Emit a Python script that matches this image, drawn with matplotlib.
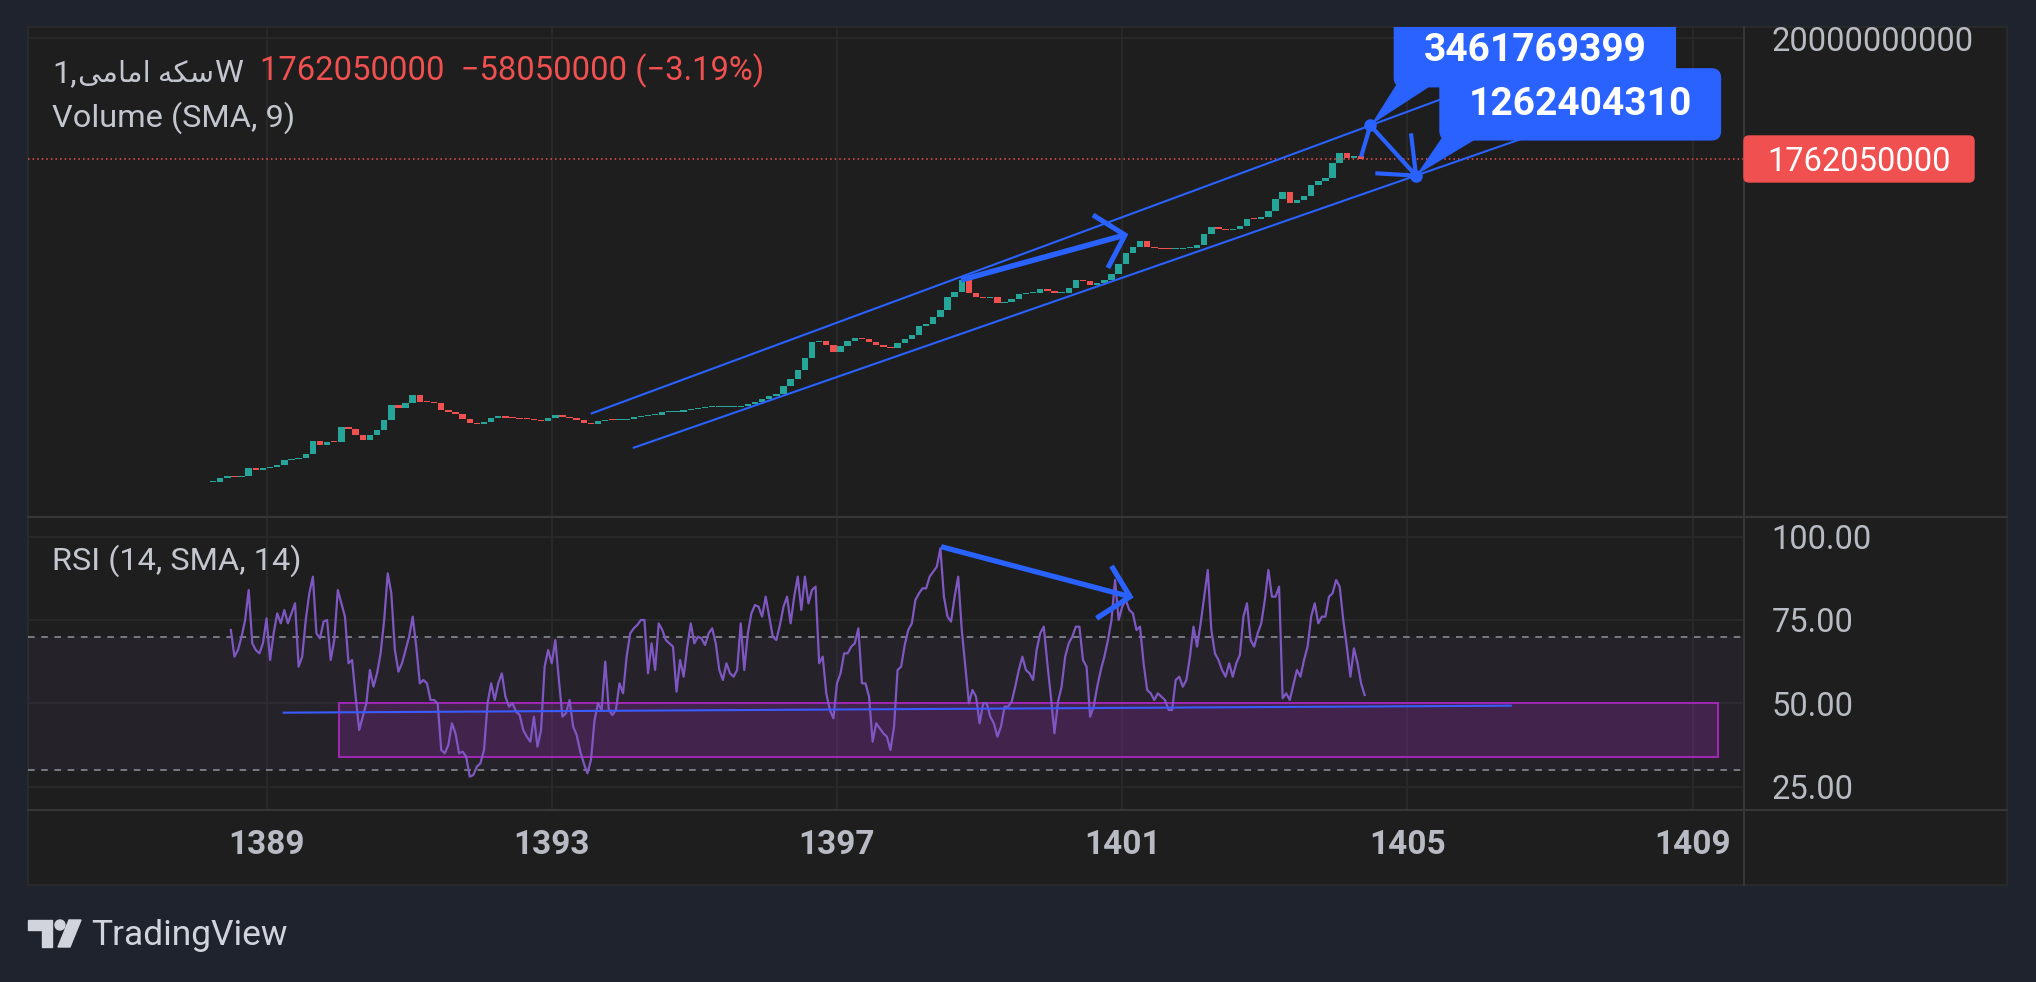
import matplotlib.pyplot as plt
import matplotlib.patches as mpatches
import matplotlib.transforms as mtransforms
from matplotlib.lines import Line2D
from matplotlib.ticker import NullLocator
import numpy as np

plt.rcParams["font.family"] = ["Roboto", "DejaVu Sans"]

#####################################################
# DATA
#####################################################

# weekly-ish closes of the coin (million rials), sampled every 0.1 year
price_start = 1388.25
price_step = 0.1
close_m = [
    2.65, 2.86, 3.02, 2.94, 3.0, 3.5, 3.4, 3.5, 3.6, 3.74,
    4.15, 4.2, 4.28, 4.7, 6.1, 5.65, 6.0, 5.9, 8.1, 7.7,
    6.9, 6.2, 6.85, 7.5, 9.2, 12.5, 11.7, 12.9, 15.2, 13.3,
    13.2, 12.9, 11.2, 10.9, 10.5, 9.4, 8.7, 8.6, 8.8, 9.7,
    10.0, 9.7, 9.55, 9.45, 9.35, 9.25, 9.1, 9.6, 10.3, 9.9,
    9.6, 9.3, 8.7, 8.6, 9.1, 9.3, 9.2, 9.2, 9.5, 9.8,
    10.1, 10.2, 10.3, 10.9, 10.9, 10.9, 11.2, 11.5, 11.7, 11.9,
    12.0, 12.1, 12.1, 12.1, 12.3, 12.8, 13.3, 14.2, 15.0, 15.6,
    18.5, 21.0, 25.5, 32.0, 44.0, 45.0, 42.0, 36.6, 41.0, 45.5,
    48.5, 47.5, 44.5, 42.0, 40.5, 39.2, 43.5, 46.8, 51.0, 61.0,
    64.0, 74.0, 85.0, 110.0, 121.0, 155.0, 118.0, 110.0, 108.0, 110.0,
    98.0, 100.0, 106.0, 116.0, 118.0, 118.0, 128.0, 125.0, 119.0, 120.0,
    132.0, 155.0, 150.0, 140.0, 145.0, 154.0, 175.0, 215.0, 265.0, 300.0,
    340.0, 302.0, 292.0, 287.0, 286.0, 290.0, 294.0, 297.0, 312.0, 390.0,
    445.0, 428.0, 424.0, 430.0, 460.0, 530.0, 525.0, 545.0, 620.0, 790.0,
    900.0, 725.0, 780.0, 840.0, 1050.0, 1130.0, 1200.0, 1620.0, 2000.0, 1800.0,
    1860.0, 1762.05,
]

# RSI(14), sampled every 0.05 year
rsi_start = 1388.50
rsi_step = 0.05
rsi = [
    72, 64, 66, 70, 75, 84, 68, 66, 65, 68,
    75.5, 63, 71, 77, 74, 78, 74, 77, 80, 61,
    64, 75, 83, 88, 71, 69.5, 74.5, 75, 63, 69,
    84, 80, 76, 62, 63, 52, 42, 46, 50, 60,
    55, 59, 65, 75, 89, 83, 66, 59.5, 62, 66,
    70, 76, 67, 56, 57, 56, 51, 51, 50, 36,
    35, 37.5, 44, 41, 35, 35.5, 34, 28, 28.5, 31,
    32, 36, 50, 56, 51, 56, 59, 52, 49, 50,
    47.5, 46.5, 42, 40, 38.5, 46, 37, 42, 61, 66,
    62, 69, 57, 46, 47, 51, 43, 40.5, 35.5, 32,
    29, 33, 45, 50, 48, 62.5, 48, 46.5, 48, 56,
    53, 64, 71, 72.5, 73.5, 75, 75, 59, 68, 60,
    74, 72, 69, 68, 67, 53.5, 63, 58, 67, 74,
    68, 70, 69.5, 67.5, 71, 72.5, 68, 60, 57, 62,
    59, 58, 60, 74, 60, 71, 77, 79.5, 79, 76,
    82, 76, 70, 69, 73.5, 79, 82, 74, 82, 88,
    78, 88, 80, 84, 85, 62, 64, 53, 48, 45.5,
    56, 59, 65, 65, 67, 68, 72.5, 56, 56, 52,
    38.5, 44, 42.5, 41, 40, 36, 43, 60, 61, 67.5,
    72, 74, 81, 83, 84.5, 84.5, 88, 89.5, 91, 96.5,
    82, 76, 74.5, 82, 88, 72, 61, 50, 54, 52,
    44, 50, 50, 46, 44, 40, 43, 49, 49, 50.5,
    55, 60, 64, 60, 59, 57, 66, 71, 73, 62,
    52, 41, 50.5, 55, 64, 68, 70, 73, 73, 63,
    61, 46, 49, 55, 60, 64, 69, 75, 87, 75,
    79, 81, 78, 77, 72, 73, 62, 54, 53, 51,
    53, 52, 51, 48, 48, 57, 58, 55, 57, 64,
    73, 67, 74, 82, 90, 72, 65, 63, 60, 58,
    62, 58, 62, 64.5, 76, 80, 69, 67, 71, 74,
    81, 90, 82, 82, 85, 51.5, 53, 51, 55.5, 60,
    58, 63, 67, 76, 80, 74, 76, 76, 82, 83,
    87, 85, 75, 67, 58, 66.5, 62, 56, 52.5,
]

year_ticks = [1389, 1393, 1397, 1401, 1405, 1409]
price_tick = 20000000000
rsi_ticks = [25, 50, 75, 100]

last_price = 1762050000
change = -58050000
change_pct = -3.19

# hand drawings (year, value)
upper_channel = [(1393.56, 1.057e7), (1404.48, 3461769399)]
lower_channel = [(1394.15, 5.3e6), (1405.12, 1262404310)]
channel_end = 1409.0
price_arrow = [(1398.74, 1.545e8), (1401.04, 3.82e8)]
price_arrow_head = [(1400.59, 5.71e8), (1401.04, 3.82e8), (1400.80, 1.97e8)]
end_path = [(1404.35, 1.845e9), (1404.48, 3461769399), (1405.12, 1262404310)]
end_path_head = [(1404.55, 1.322e9), (1405.12, 1262404310), (1405.05, 2.953e9)]

rsi_arrow = [(1398.46, 97.0), (1401.11, 82.0)]
rsi_arrow_head = [(1400.85, 91.2), (1401.11, 82.0), (1400.64, 75.5)]
rsi_line = [(1389.24, 47.2), (1406.45, 49.3)]
rsi_box = (1390.02, 1409.36, 34.0, 50.0)

#####################################################
# STYLE
#####################################################

W, H = 2036, 982
OUTER = "#1f232e"
PANEL = "#1e1e1e"
SEP = "#363636"
GRID = "#2b2b2b"
TXT = "#b8bbc3"
HEAD = "#c3c6ce"
GREEN = "#26a69a"
RED = "#f0504f"
BLUE = "#2962ff"
PURPLE = "#7e57c2"
MAGENTA = "#9c27b0"


def fx(px):
    return px / W


def fy(py):
    return 1 - py / H


ident = mtransforms.IdentityTransform()

fig = plt.figure(figsize=(W / 100, H / 100), dpi=100, facecolor=OUTER)

# chart panel
fig.add_artist(mpatches.Rectangle((fx(28), fy(885)), fx(2007) - fx(28), fy(27) - fy(885),
                                  transform=fig.transFigure, facecolor=PANEL,
                                  edgecolor="#2c2c2c", lw=1.2, zorder=0))

ax_p = fig.add_axes([fx(28), fy(517), fx(1744) - fx(28), fy(27) - fy(517)])
ax_r = fig.add_axes([fx(28), fy(810), fx(1744) - fx(28), fy(517) - fy(810)])

for ax in (ax_p, ax_r):
    ax.set_facecolor("none")
    for s in ax.spines.values():
        s.set_visible(False)
    ax.set_xlim(1385.655, 1409.72)
    ax.set_xticks(year_ticks)
    ax.yaxis.tick_right()
    ax.tick_params(length=0, labelsize=23.5, labelcolor=TXT)
    ax.tick_params(axis="y", pad=20)
    ax.grid(color=GRID, lw=1.2)
    ax.set_axisbelow(True)

# separators
for y0 in (517, 810):
    fig.add_artist(Line2D([fx(28), fx(2007)], [fy(y0), fy(y0)], transform=fig.transFigure,
                          color=SEP, lw=1.5))
fig.add_artist(Line2D([fx(1744), fx(1744)], [fy(27), fy(885)], transform=fig.transFigure,
                      color=SEP, lw=1.5))

#####################################################
# PRICE PANE
#####################################################

ax_p.set_yscale("log")
ax_p.set_ylim(1.315e6, 2.506e10)
ax_p.set_yticks([price_tick], labels=[str(price_tick)])
ax_p.yaxis.set_minor_locator(NullLocator())
ax_p.tick_params(axis="x", labelbottom=False)

close = np.array(close_m) * 1e6
t_price = price_start + price_step * np.arange(len(close))
opens = np.r_[close[0], close[:-1]]
lo = np.minimum(opens, close)
hi = np.maximum(np.maximum(opens, close), lo * 1.02)
colors = np.where(close >= opens, GREEN, RED)
ax_p.bar(t_price, hi - lo, bottom=lo, width=0.09, color=colors, linewidth=0, zorder=2)

ax_p.axhline(last_price, color=RED, lw=1.1, ls=(0, (1, 2)), zorder=2)


def extend(p0, p1, x_end):
    (x0, y0), (x1, y1) = p0, p1
    k = (np.log10(y1) - np.log10(y0)) / (x1 - x0)
    return [x0, x_end], [y0, 10 ** (np.log10(y0) + k * (x_end - x0))]


for ch in (upper_channel, lower_channel):
    xs, ys = extend(ch[0], ch[1], channel_end)
    ax_p.plot(xs, ys, color=BLUE, lw=1.5, zorder=3)

for path, lw in ((price_arrow, 4.0), (price_arrow_head, 3.6), (end_path, 3.0), (end_path_head, 3.0)):
    xs, ys = zip(*path)
    ax_p.plot(xs, ys, color=BLUE, lw=lw, solid_capstyle="butt", solid_joinstyle="miter", zorder=4)

for pt in (upper_channel[1], lower_channel[1]):
    ax_p.plot([pt[0]], [pt[1]], "o", ms=8, color=BLUE, zorder=5)


def callout(ax, anchor, label, dx0, dx1, dy0, height):
    px, py = ax.transData.transform(anchor)
    wedge = mpatches.Polygon([(px + dx0 + 4, py + dy0 + 4), (px + dx0 + 40, py + dy0 + 4), (px + 3, py + 3)],
                             closed=True, transform=ident, color=BLUE, zorder=6)
    box = mpatches.FancyBboxPatch((px + dx0, py + dy0), dx1 - dx0, height,
                                  boxstyle="round,pad=0,rounding_size=9",
                                  transform=ident, color=BLUE, zorder=6)
    ax.add_patch(wedge)
    ax.add_patch(box)
    ax.text(px + (dx0 + dx1) / 2, py + dy0 + height / 2, label, transform=ident,
            ha="center", va="center", color="white", fontsize=28, fontweight="bold", zorder=7)


callout(ax_p, upper_channel[1], "3461769399", 24, 305, 38.7, 72)
callout(ax_p, lower_channel[1], "1262404310", 24, 304.5, 35.7, 71)

# last price label on the scale
fig.canvas.draw()
_, lp_y = ax_p.transData.transform((1400, last_price))
fig.add_artist(mpatches.FancyBboxPatch((1744, lp_y - 23), 230, 46, boxstyle="round,pad=0,rounding_size=5",
                                       transform=ident, color=RED, zorder=8))
fig.text(1859 / W, lp_y / H, str(last_price), ha="center", va="center_baseline",
         color="white", fontsize=23.5, zorder=9)

#####################################################
# RSI PANE
#####################################################

ax_r.set_ylim(18.0, 105.9)
ax_r.set_yticks(rsi_ticks, labels=[f"{v:.2f}" for v in rsi_ticks])
ax_r.set_xticks(year_ticks, labels=[str(y) for y in year_ticks])
ax_r.tick_params(axis="x", pad=13.5, labelsize=24)
for lab in ax_r.get_xticklabels():
    lab.set_fontweight("bold")

ax_r.axhspan(30, 70, color=PURPLE, alpha=0.08, lw=0, zorder=1)
for lvl in (70, 30):
    ax_r.axhline(lvl, color="#787b86", lw=1.4, ls=(0, (3.4, 3.4)), zorder=1.5)

x0, x1, y0, y1 = rsi_box
ax_r.add_patch(mpatches.Rectangle((x0, y0), x1 - x0, y1 - y0, facecolor=MAGENTA, alpha=0.25,
                                  lw=0, zorder=2))
ax_r.add_patch(mpatches.Rectangle((x0, y0), x1 - x0, y1 - y0, facecolor="none", edgecolor=MAGENTA,
                                  lw=1.5, zorder=2))

t_rsi = rsi_start + rsi_step * np.arange(len(rsi))
ax_r.plot(t_rsi, rsi, color=PURPLE, lw=1.6, zorder=3)

xs, ys = zip(*rsi_line)
ax_r.plot(xs, ys, color="#3a5cff", lw=1.5, zorder=3.5)
for path in (rsi_arrow, rsi_arrow_head):
    xs, ys = zip(*path)
    ax_r.plot(xs, ys, color=BLUE, lw=3.8, solid_capstyle="butt", solid_joinstyle="miter", zorder=4)

#####################################################
# HEADER TEXTS
#####################################################

coin = "\uFBFD\uFEE3\uFE8E\uFEE3\uFE8D \uFEEA\uFB91\uFEB3"
t_a = fig.text(fx(52), fy(71), "1,", ha="left", va="center_baseline", fontsize=23.4, color=HEAD)
t_b = ax_p.annotate(coin, xy=(1, 0), xycoords=t_a, xytext=(1, 0), textcoords="offset pixels",
                    ha="left", va="bottom", fontsize=21, color=HEAD, annotation_clip=False)
ax_p.annotate("W", xy=(1, 0), xycoords=t_b, xytext=(0, 0), textcoords="offset pixels",
              ha="left", va="bottom", fontsize=23.4, color=HEAD, annotation_clip=False)
fig.text(fx(260), fy(71), f"{last_price}  \u2212{abs(change)} (\u2212{abs(change_pct):.2f}%)",
         ha="left", va="center", fontsize=23.6, color=RED)
fig.text(fx(52), fy(118), "Volume (SMA, 9)", ha="left", va="center", fontsize=23.4, color=HEAD)
fig.text(fx(52), fy(561), "RSI (14, SMA, 14)", ha="left", va="center", fontsize=23.4, color=HEAD)

# TradingView mark
LOGO = "#d1d4dc"


def P(x, y):
    return (x, H - y)


fig.add_artist(mpatches.Polygon([P(28, 920), P(52, 920), P(52, 947), P(42, 947), P(42, 930), P(28, 930)],
                                transform=ident, color=LOGO))
fig.add_artist(mpatches.Circle(P(60, 925), 5, transform=ident, color=LOGO))
fig.add_artist(mpatches.Polygon([P(69, 920), P(81, 920), P(70, 947), P(58, 947)], transform=ident, color=LOGO))
fig.text(fx(91), fy(935), "TradingView", ha="left", va="center", fontsize=25.5, color=LOGO)

fig.savefig("out.png", dpi=100, facecolor=OUTER)
